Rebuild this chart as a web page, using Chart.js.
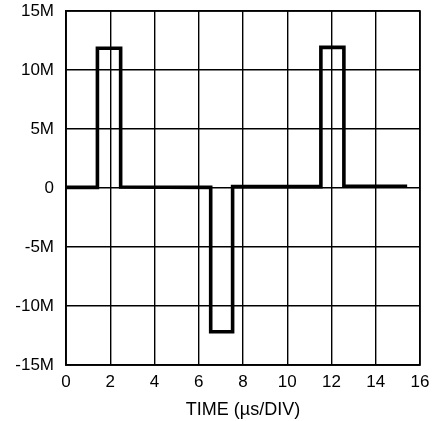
<!DOCTYPE html>
<html>
<head>
<meta charset="utf-8">
<script src="https://cdn.jsdelivr.net/npm/chart.js@4/dist/chart.umd.min.js"></script>
<style>
html,body{margin:0;padding:0;background:#fff;}
#wrap{width:435px;height:421px;}
</style>
</head>
<body>
<div id="wrap"><canvas id="c" width="435" height="421"></canvas></div>
<script>
const timeValues   = [0,    1.42, 1.42,  2.47,  2.47, 6.54, 6.54,   7.53,   7.53, 11.52, 11.52, 12.56, 12.56, 15.42];
const signalValues = [0.05, 0.05, 11.84, 11.84, 0.08, 0.05, -12.18, -12.18, 0.12, 0.12,  11.92, 11.92, 0.15,  0.15];
const xTickValues = [0, 2, 4, 6, 8, 10, 12, 14, 16];
const yTickValues = [-15, -10, -5, 0, 5, 10, 15];
const xTitle = 'TIME (\u00B5s/DIV)';

const points = timeValues.map((t, i) => ({x: t, y: signalValues[i] * 1e6}));
const font = {family: '"Liberation Sans", Arial, sans-serif', size: 17};
const titleFont = {family: '"Liberation Sans", Arial, sans-serif', size: 18};

new Chart(document.getElementById('c'), {
  type: 'line',
  data: {datasets: [{data: points, borderColor: '#000', borderWidth: 3.6, pointRadius: 0, tension: 0, fill: false, borderJoinStyle: 'miter'}]},
  options: {
    responsive: false,
    animation: false,
    layout: {padding: {top: 11, right: 15, left: 0, bottom: 0}},
    plugins: {legend: {display: false}, tooltip: {enabled: false}},
    scales: {
      x: {
        type: 'linear', min: 0, max: 16,
        afterBuildTicks: s => { s.ticks = xTickValues.map(v => ({value: v})); },
        afterFit: s => { s.height = 56; s.paddingLeft = 0; s.paddingRight = 0; },
        ticks: {color: '#000', font: font, padding: 7, maxRotation: 0},
        grid: {color: '#000', lineWidth: 1.4, drawTicks: false},
        border: {color: '#000', width: 1.6},
        title: {display: true, text: xTitle, color: '#000', font: titleFont, padding: {top: 8, bottom: 0}}
      },
      y: {
        min: -15e6, max: 15e6,
        afterBuildTicks: s => { s.ticks = yTickValues.map(v => ({value: v * 1e6})); },
        afterFit: s => { s.width = 66; s.paddingTop = 0; s.paddingBottom = 0; },
        ticks: {color: '#000', font: font, padding: 12,
          callback: v => v === 0 ? '0' : (v / 1e6) + 'M'},
        grid: {color: '#000', lineWidth: 1.4, drawTicks: false},
        border: {color: '#000', width: 1.6}
      }
    }
  },
  plugins: [{
    id: 'frame',
    afterDraw(chart) {
      const {ctx, chartArea: a} = chart;
      ctx.save();
      ctx.strokeStyle = '#000';
      ctx.lineWidth = 1.6;
      ctx.strokeRect(a.left, a.top, a.right - a.left, a.bottom - a.top);
      ctx.restore();
    }
  }]
});
</script>
</body>
</html>
